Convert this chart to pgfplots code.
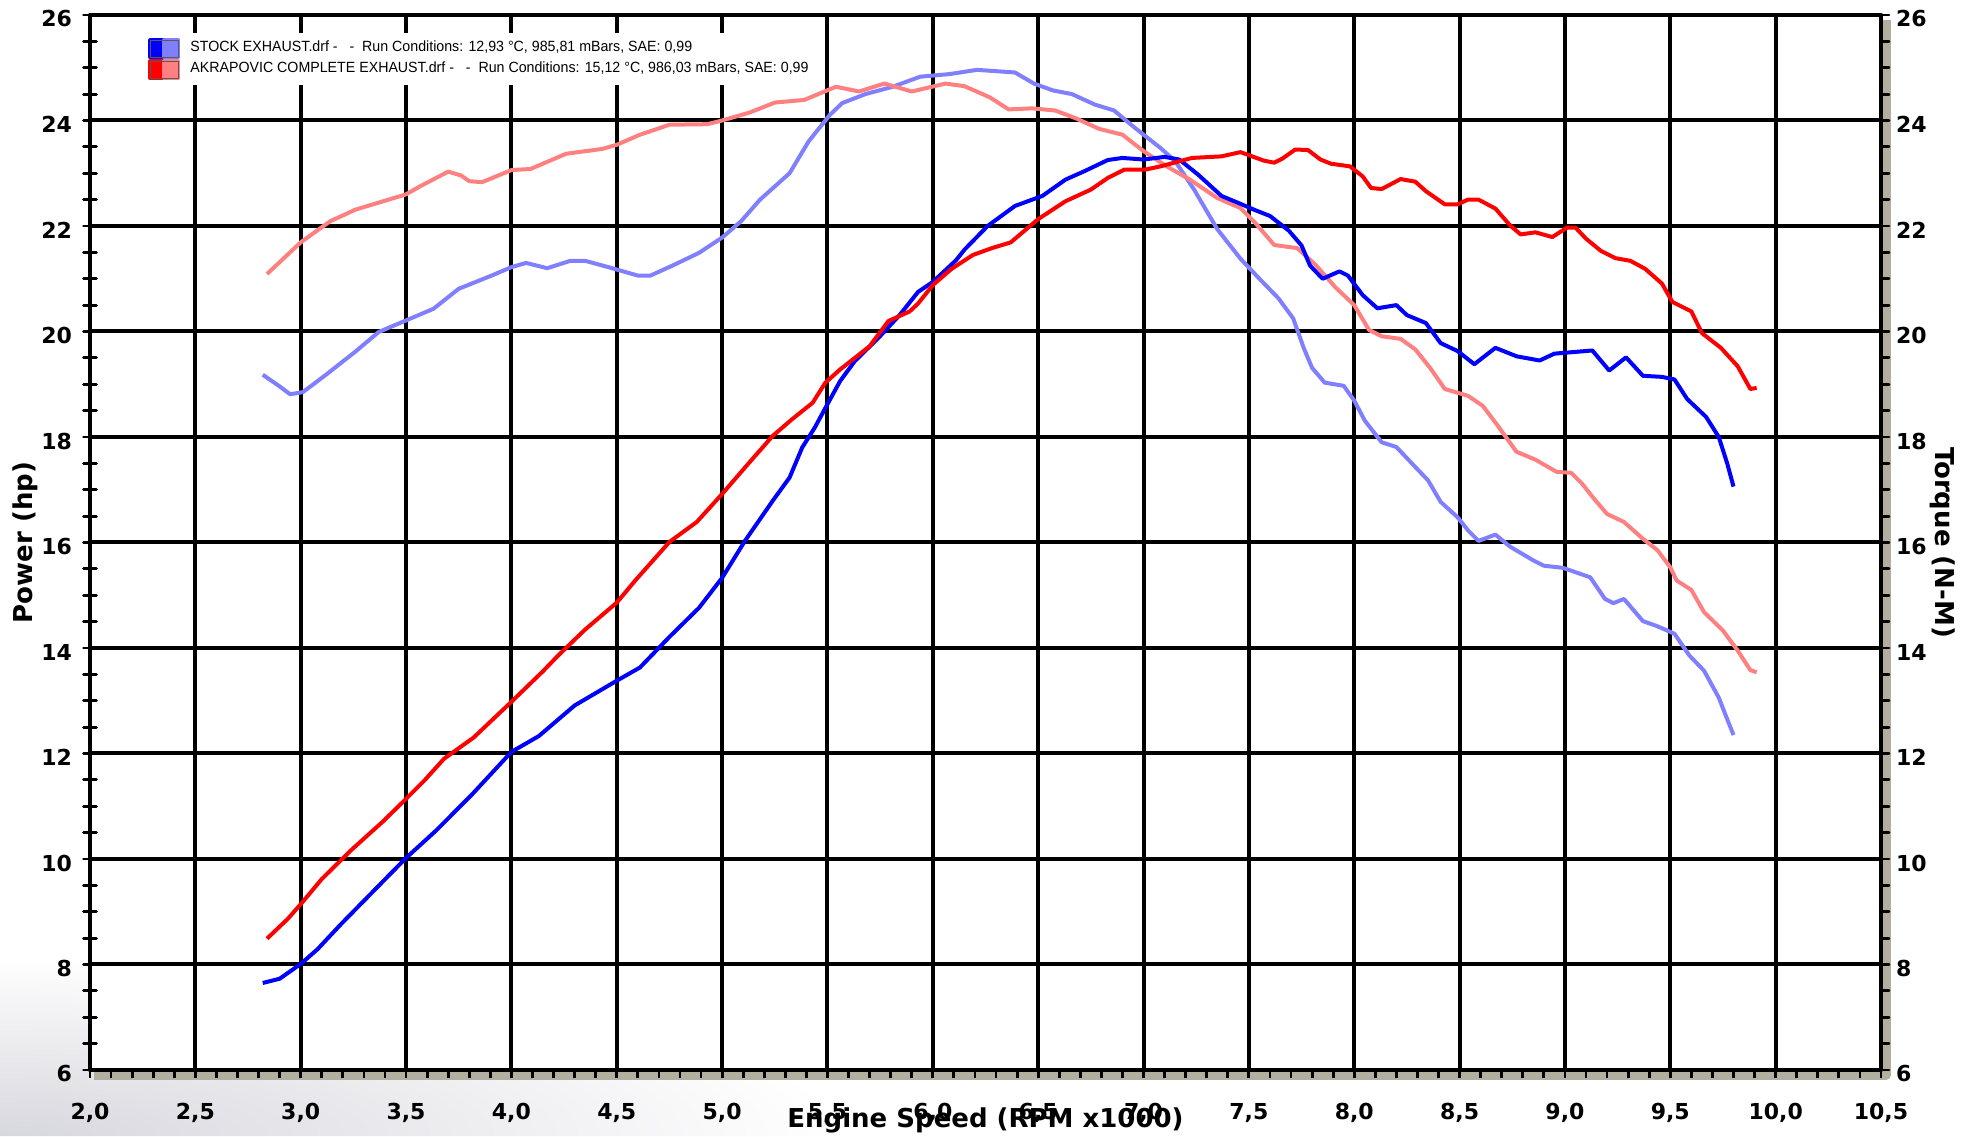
\documentclass[border=0pt]{standalone}
\usepackage{fontspec}
\setmainfont{DejaVu Sans}
\newfontfamily\legfont[FakeStretch=0.96]{Liberation Sans}
\usepackage{pgfplots}
\pgfplotsset{compat=1.18}
\definecolor{pw1}{RGB}{0,0,255}
\definecolor{tq1}{RGB}{128,128,255}
\definecolor{pw2}{RGB}{255,0,0}
\definecolor{tq2}{RGB}{255,128,128}
\definecolor{shadowc}{RGB}{178,175,160}
\definecolor{wm}{RGB}{215,215,222}
\newcommand\tickf{\fontsize{11}{13}\selectfont\bfseries}
\newcommand\labf{\fontsize{13}{15}\selectfont\bfseries}
\pgfplotsset{common/.style={scale only axis, width=895.5pt, height=527.5pt,
  xmin=2, xmax=10.5, ymin=6, ymax=26, at={(0pt,0pt)}, anchor=south west}}
\begin{document}
\begin{tikzpicture}
\path[use as bounding box] (-45pt,-33pt) rectangle (938pt,535pt);
\begin{scope}
\clip (-45pt,-33pt) rectangle (0pt,80pt) (0pt,-33pt) rectangle (450pt,-1pt);
\shade[inner color=wm, outer color=white] (-45pt,-33pt) ellipse (420pt and 90pt);
\end{scope}
\draw[shadowc, line width=5pt, line join=round] (2pt,-2.5pt) -- (898pt,-2.5pt) -- (898pt,525pt);
\begin{axis}[common,
  xtick={2,2.5,3,3.5,4,4.5,5,5.5,6,6.5,7,7.5,8,8.5,9,9.5,10,10.5},
  xticklabels={{2,0},{2,5},{3,0},{3,5},{4,0},{4,5},{5,0},{5,5},{6,0},{6,5},{7,0},{7,5},{8,0},{8,5},{9,0},{9,5},{10,0},{10,5}},
  ytick={6,8,10,12,14,16,18,20,22,24,26},
  minor x tick num=4,
  grid=major,
  major grid style={line width=2pt, black},
  axis line style={line width=2.4pt, line join=round, black},
  tick align=outside,
  xtick pos=left, ytick pos=left,
  major tick length=4pt, minor tick length=4pt,
  xtick style={black, line width=1.4pt},
  ytick style={draw=none},
  tick label style={font=\tickf},
  /pgf/number format/assume math mode=true,
  xticklabel style={anchor=center, yshift=-17.5pt},
  yticklabel style={anchor=east, xshift=-1.5pt, yshift=-2pt},
  xlabel={Engine Speed (RPM x1000)}, ylabel={Power (hp)},
  label style={font=\labf},
  xlabel style={at={(axis description cs:0.5,-0.0474)}, anchor=center},
  ylabel style={at={(axis description cs:-0.0363,0.5)}, anchor=center},
  legend style={at={(axis description cs:0.0279,0.98294)}, anchor=north west,
    draw=none, fill=white, inner xsep=4pt, inner ysep=2.5pt, row sep=0pt, column sep=5pt,
    font=\legfont\fontsize{7.4}{8.5}\selectfont,
    nodes={inner sep=0pt, text height=5.8pt, text depth=2.7pt}},
  legend cell align=left,
]
\addplot[tq1, line width=2pt, line join=round, forget plot] coordinates {
(2.82,19.18)(2.90,18.96)(2.95,18.81)(3.01,18.85)(3.12,19.18)(3.26,19.62)(3.37,19.99)(3.50,20.21)(3.63,20.43)(3.75,20.81)(3.90,21.05)(4.00,21.22)(4.07,21.30)(4.17,21.20)(4.28,21.34)(4.35,21.34)(4.46,21.22)(4.60,21.06)(4.66,21.06)(4.77,21.26)(4.89,21.49)(5.00,21.78)(5.09,22.09)(5.18,22.50)(5.32,23.00)(5.41,23.60)(5.51,24.10)(5.57,24.33)(5.68,24.50)(5.81,24.64)(5.94,24.83)(6.08,24.88)(6.21,24.96)(6.39,24.91)(6.48,24.70)(6.57,24.57)(6.66,24.50)(6.77,24.30)(6.86,24.19)(6.95,23.89)(7.01,23.70)(7.08,23.48)(7.15,23.23)(7.24,22.69)(7.35,21.94)(7.46,21.38)(7.55,21.00)(7.64,20.63)(7.71,20.25)(7.76,19.69)(7.80,19.31)(7.86,19.03)(7.95,18.97)(8.00,18.69)(8.05,18.31)(8.13,17.90)(8.20,17.81)(8.29,17.43)(8.35,17.18)(8.41,16.77)(8.49,16.48)(8.54,16.23)(8.59,16.03)(8.67,16.15)(8.74,15.92)(8.85,15.66)(8.90,15.56)(8.99,15.52)(9.12,15.34)(9.19,14.93)(9.23,14.85)(9.28,14.93)(9.37,14.51)(9.44,14.41)(9.52,14.27)(9.59,13.86)(9.66,13.57)(9.73,13.06)(9.77,12.65)(9.80,12.35)};
\addplot[tq2, line width=2pt, line join=round, forget plot] coordinates {
(2.84,21.09)(3.00,21.69)(3.14,22.09)(3.26,22.31)(3.50,22.60)(3.57,22.76)(3.70,23.03)(3.76,22.96)(3.80,22.85)(3.86,22.83)(4.00,23.06)(4.09,23.08)(4.26,23.37)(4.43,23.46)(4.50,23.54)(4.61,23.73)(4.75,23.92)(4.93,23.93)(5.00,24.00)(5.13,24.15)(5.25,24.34)(5.39,24.39)(5.54,24.64)(5.65,24.55)(5.77,24.70)(5.90,24.55)(6.06,24.70)(6.15,24.65)(6.27,24.44)(6.36,24.21)(6.47,24.23)(6.58,24.19)(6.68,24.04)(6.79,23.84)(6.90,23.73)(7.00,23.42)(7.11,23.13)(7.22,22.88)(7.35,22.53)(7.46,22.34)(7.53,22.06)(7.62,21.64)(7.73,21.58)(7.82,21.25)(7.91,20.84)(8.00,20.50)(8.07,20.03)(8.13,19.91)(8.22,19.86)(8.29,19.66)(8.36,19.31)(8.43,18.91)(8.54,18.78)(8.61,18.59)(8.68,18.22)(8.77,17.72)(8.86,17.57)(8.96,17.34)(9.03,17.32)(9.08,17.12)(9.14,16.82)(9.20,16.54)(9.28,16.39)(9.37,16.07)(9.44,15.85)(9.50,15.53)(9.53,15.28)(9.60,15.10)(9.66,14.68)(9.75,14.33)(9.82,13.95)(9.88,13.58)(9.91,13.54)};
\addplot[pw1, line width=2pt, line join=round, legend image code/.code={
  \fill[pw1] (0pt,-4.25pt) rectangle (7pt,4.25pt);
  \fill[tq1] (7pt,-4.25pt) rectangle (14pt,4.25pt);
  \draw[black!65, line width=0.6pt] (0pt,-4.25pt) rectangle (14pt,4.25pt);}] coordinates {
(2.82,7.65)(2.90,7.73)(3.00,8.01)(3.08,8.29)(3.19,8.76)(3.34,9.37)(3.50,10.02)(3.64,10.53)(3.81,11.21)(4.00,12.03)(4.13,12.33)(4.30,12.91)(4.50,13.38)(4.61,13.63)(4.75,14.21)(4.89,14.76)(5.00,15.33)(5.11,16.04)(5.24,16.79)(5.32,17.23)(5.38,17.80)(5.44,18.18)(5.49,18.55)(5.56,19.06)(5.63,19.44)(5.74,19.87)(5.84,20.30)(5.93,20.75)(6.00,20.94)(6.11,21.35)(6.15,21.55)(6.26,22.00)(6.39,22.38)(6.52,22.57)(6.63,22.88)(6.72,23.04)(6.83,23.25)(6.90,23.29)(7.00,23.26)(7.10,23.31)(7.17,23.26)(7.26,22.97)(7.37,22.57)(7.46,22.42)(7.53,22.30)(7.60,22.19)(7.69,21.91)(7.75,21.63)(7.79,21.25)(7.85,21.00)(7.93,21.14)(7.97,21.06)(8.04,20.69)(8.11,20.44)(8.20,20.50)(8.25,20.31)(8.34,20.16)(8.41,19.78)(8.49,19.63)(8.57,19.38)(8.67,19.69)(8.77,19.53)(8.88,19.45)(8.95,19.58)(9.04,19.61)(9.13,19.64)(9.21,19.26)(9.29,19.51)(9.37,19.16)(9.46,19.14)(9.52,19.09)(9.58,18.72)(9.67,18.38)(9.73,18.00)(9.77,17.50)(9.80,17.06)};
\addlegendentry{STOCK EXHAUST.drf -\ \ \ -\ \ Run Conditions: 12,93 °C, 985,81 mBars, SAE: 0,99}
\addplot[pw2, line width=2pt, line join=round, legend image code/.code={
  \fill[pw2] (0pt,-4.25pt) rectangle (7pt,4.25pt);
  \fill[tq2] (7pt,-4.25pt) rectangle (14pt,4.25pt);
  \draw[black!65, line width=0.6pt] (0pt,-4.25pt) rectangle (14pt,4.25pt);}] coordinates {
(2.84,8.49)(2.94,8.87)(3.01,9.19)(3.10,9.62)(3.24,10.17)(3.39,10.71)(3.50,11.14)(3.59,11.50)(3.68,11.90)(3.82,12.30)(4.00,12.98)(4.15,13.56)(4.22,13.85)(4.35,14.35)(4.50,14.86)(4.59,15.29)(4.75,16.01)(4.88,16.39)(5.00,16.92)(5.13,17.52)(5.24,18.02)(5.33,18.33)(5.43,18.65)(5.49,19.03)(5.56,19.28)(5.63,19.50)(5.70,19.72)(5.79,20.20)(5.89,20.38)(5.93,20.53)(6.00,20.88)(6.09,21.19)(6.19,21.45)(6.28,21.58)(6.37,21.69)(6.50,22.13)(6.63,22.47)(6.75,22.69)(6.83,22.91)(6.91,23.07)(7.01,23.07)(7.08,23.13)(7.23,23.29)(7.37,23.32)(7.46,23.40)(7.57,23.24)(7.62,23.20)(7.66,23.28)(7.72,23.45)(7.78,23.44)(7.84,23.26)(7.89,23.18)(7.98,23.13)(8.04,22.94)(8.08,22.72)(8.13,22.70)(8.22,22.89)(8.29,22.84)(8.34,22.66)(8.43,22.41)(8.49,22.41)(8.54,22.50)(8.59,22.50)(8.67,22.33)(8.74,22.01)(8.79,21.84)(8.86,21.88)(8.94,21.79)(9.01,21.97)(9.05,21.97)(9.10,21.76)(9.17,21.53)(9.24,21.39)(9.31,21.34)(9.38,21.19)(9.46,20.91)(9.51,20.56)(9.60,20.38)(9.65,19.97)(9.74,19.69)(9.82,19.34)(9.88,18.91)(9.91,18.93)};
\addlegendentry{AKRAPOVIC COMPLETE EXHAUST.drf -\ \ \ -\ \ Run Conditions: 15,12 °C, 986,03 mBars, SAE: 0,99}
\end{axis}
% left ticks
\begin{axis}[common, axis x line=none, axis y line*=left,
  ytick={6,8,10,12,14,16,18,20,22,24,26}, yticklabels={}, minor y tick num=3,
  tick align=center, major tick length=6.5pt, minor tick length=6.5pt,
  ytick style={black, line width=1.4pt, line cap=round},
  axis line style={line width=2.4pt, black}]
\end{axis}
% right axis
\begin{axis}[common, axis x line=none, axis y line*=right,
  ytick={6,8,10,12,14,16,18,20,22,24,26}, minor y tick num=3,
  tick align=outside, major tick length=4pt, minor tick length=4pt,
  ytick style={black, line width=1.4pt, line cap=round},
  axis line style={line width=2.4pt, black},
  tick label style={font=\tickf},
  /pgf/number format/assume math mode=true,
  yticklabel style={anchor=west, xshift=0pt, yshift=-2pt},
  ylabel={Torque (N-M)}, label style={font=\labf},
  ylabel style={at={(axis description cs:1.0346,0.5)}, anchor=center, rotate=180}]
\end{axis}
\end{tikzpicture}
\end{document}
